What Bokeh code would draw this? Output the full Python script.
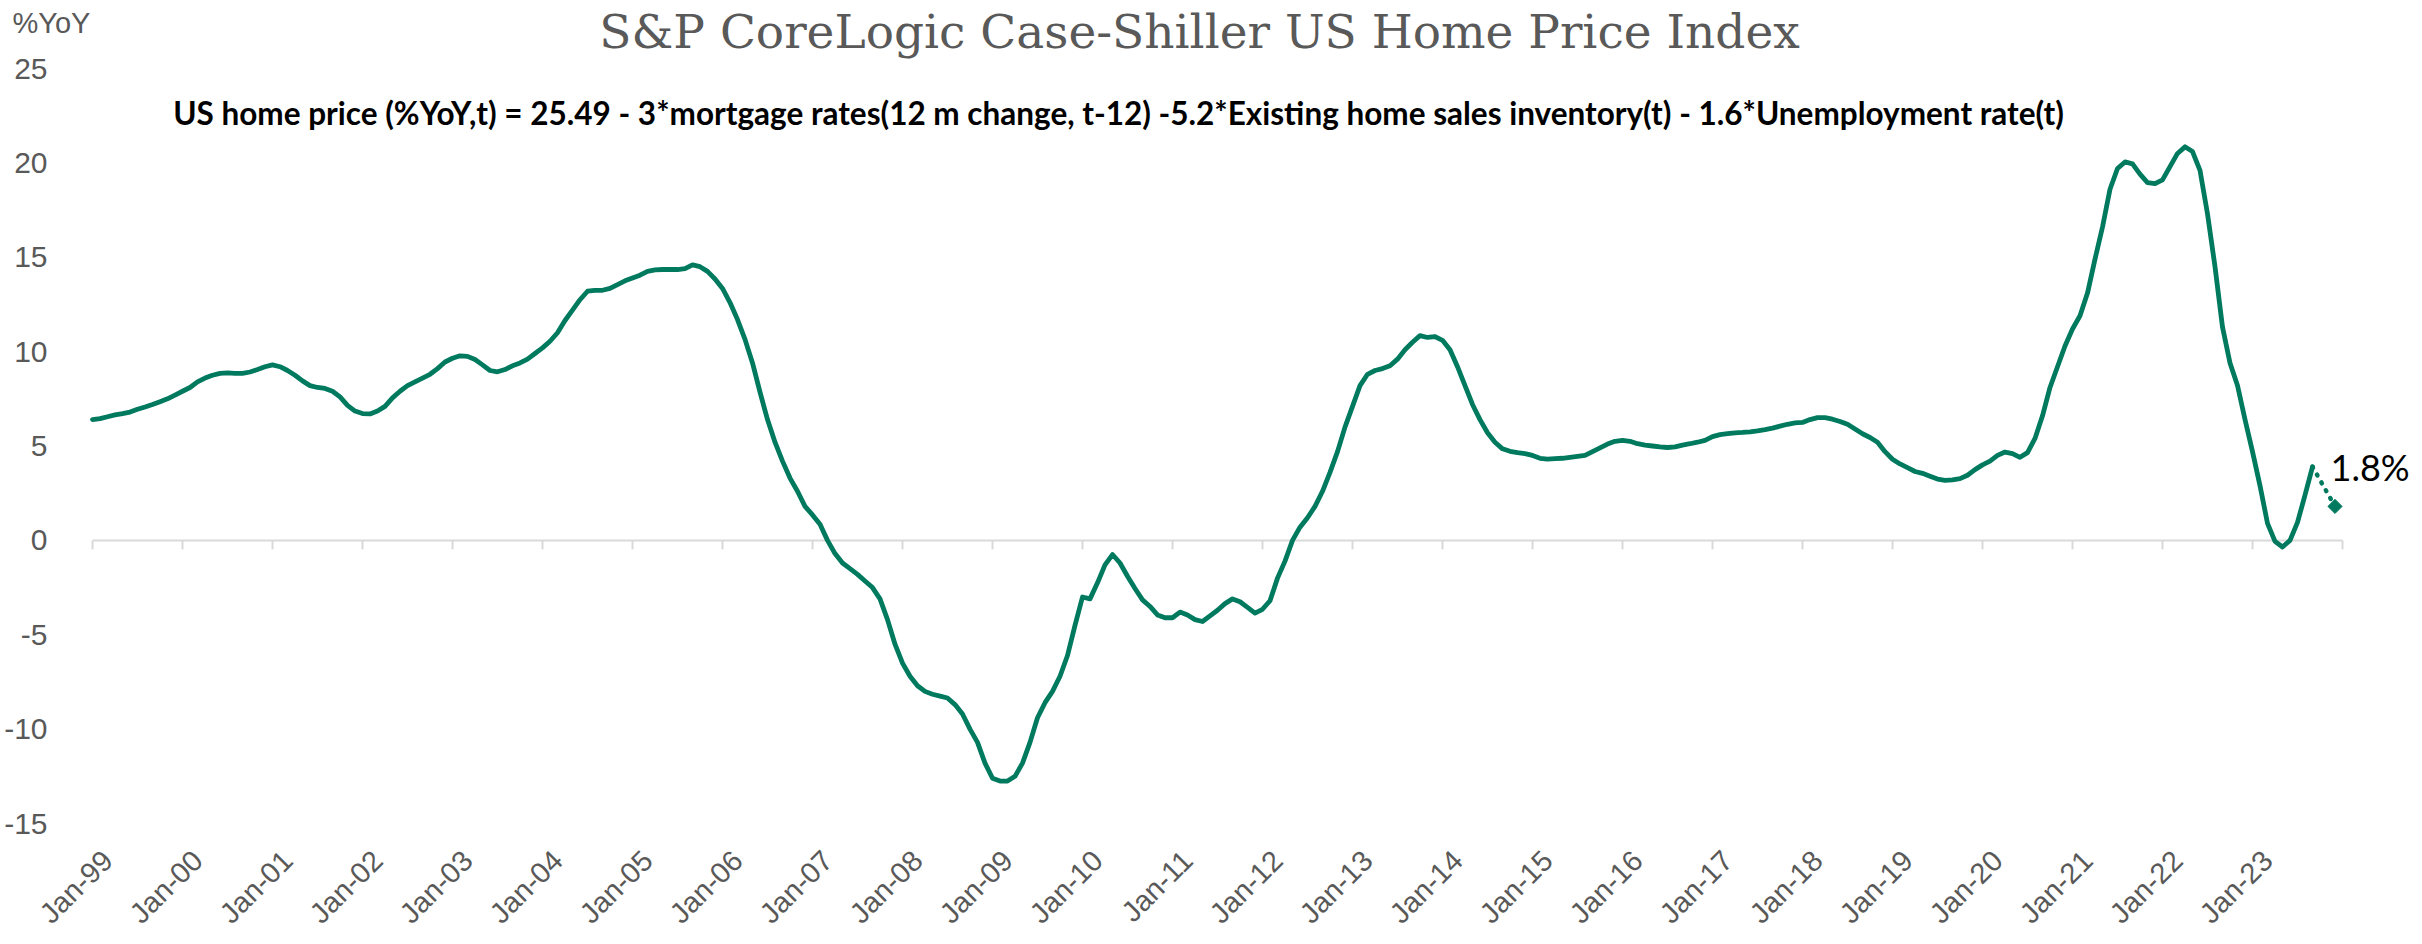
import math
from bokeh.plotting import figure
from bokeh.models import Range1d, FixedTicker, Label, ColumnDataSource
from bokeh.core.properties import value
from bokeh.embed import file_html
from bokeh.resources import INLINE

# ---------------- texts ----------------
title_text = "S&P CoreLogic Case-Shiller US Home Price Index"
equation_text = ("US home price (%YoY,t) = 25.49 - 3*mortgage rates(12 m change, t-12) "
                 "-5.2*Existing home sales inventory(t) - 1.6*Unemployment rate(t)")
y_unit_text = "%YoY"

# ---------------- data: monthly %YoY, Jan-1999 .. Sep-2023 ----------------
yoy_1999 = [6.4, 6.45, 6.55, 6.65, 6.72, 6.8, 6.95, 7.07, 7.2, 7.35, 7.5, 7.7]
yoy_2000 = [7.9, 8.1, 8.4, 8.6, 8.75, 8.85, 8.87, 8.85, 8.85, 8.92, 9.05, 9.2]
yoy_2001 = [9.3, 9.2, 9.0, 8.75, 8.45, 8.2, 8.1, 8.05, 7.9, 7.6, 7.15, 6.85]
yoy_2002 = [6.72, 6.7, 6.85, 7.1, 7.55, 7.9, 8.2, 8.4, 8.6, 8.8, 9.1, 9.45]
yoy_2003 = [9.65, 9.78, 9.75, 9.58, 9.3, 9.0, 8.93, 9.05, 9.25, 9.4, 9.6, 9.9]
yoy_2004 = [10.2, 10.55, 11.0, 11.65, 12.2, 12.75, 13.2, 13.25, 13.25, 13.35, 13.55, 13.75]
yoy_2005 = [13.9, 14.05, 14.25, 14.33, 14.35, 14.35, 14.35, 14.4, 14.6, 14.5, 14.25, 13.85]
yoy_2006 = [13.35, 12.6, 11.7, 10.65, 9.4, 7.85, 6.4, 5.2, 4.2, 3.3, 2.6, 1.8]
yoy_2007 = [1.35, 0.85, 0.0, -0.7, -1.2, -1.5, -1.8, -2.15, -2.5, -3.1, -4.2, -5.5]
yoy_2008 = [-6.5, -7.2, -7.7, -8.0, -8.15, -8.25, -8.35, -8.7, -9.2, -10.0, -10.7, -11.8]
yoy_2009 = [-12.6, -12.75, -12.75, -12.5, -11.8, -10.7, -9.4, -8.6, -8.0, -7.2, -6.1, -4.5]
yoy_2010 = [-3.0, -3.1, -2.25, -1.3, -0.75, -1.2, -1.9, -2.55, -3.15, -3.5, -3.95, -4.1]
yoy_2011 = [-4.1, -3.8, -3.95, -4.2, -4.3, -4.0, -3.7, -3.35, -3.1, -3.25, -3.55, -3.85]
yoy_2012 = [-3.65, -3.2, -2.0, -1.1, 0.0, 0.7, 1.2, 1.8, 2.6, 3.6, 4.7, 6.0]
yoy_2013 = [7.1, 8.2, 8.8, 9.0, 9.1, 9.25, 9.6, 10.1, 10.5, 10.85, 10.75, 10.8]
yoy_2014 = [10.6, 10.1, 9.2, 8.2, 7.2, 6.4, 5.7, 5.2, 4.85, 4.72, 4.65, 4.6]
yoy_2015 = [4.5, 4.35, 4.3, 4.33, 4.35, 4.4, 4.45, 4.5, 4.7, 4.9, 5.1, 5.25]
yoy_2016 = [5.3, 5.25, 5.12, 5.05, 5.0, 4.95, 4.92, 4.95, 5.05, 5.12, 5.2, 5.3]
yoy_2017 = [5.5, 5.6, 5.65, 5.7, 5.72, 5.75, 5.8, 5.87, 5.95, 6.05, 6.15, 6.22]
yoy_2018 = [6.25, 6.4, 6.5, 6.5, 6.42, 6.3, 6.15, 5.9, 5.65, 5.45, 5.2, 4.7]
yoy_2019 = [4.3, 4.05, 3.85, 3.65, 3.55, 3.4, 3.25, 3.18, 3.2, 3.27, 3.45, 3.75]
yoy_2020 = [4.0, 4.2, 4.5, 4.68, 4.6, 4.4, 4.65, 5.4, 6.6, 8.1, 9.2, 10.3]
yoy_2021 = [11.2, 11.9, 13.1, 14.9, 16.6, 18.6, 19.7, 20.05, 19.95, 19.4, 18.95, 18.9]
yoy_2022 = [19.1, 19.8, 20.5, 20.85, 20.6, 19.6, 17.3, 14.5, 11.3, 9.4, 8.2, 6.4]
yoy_2023 = [4.7, 2.9, 0.9, -0.05, -0.35, 0.0, 0.95, 2.4, 3.9]

# model projection Sep-2023 .. Dec-2023
forecast_yoy = [3.9, 3.2, 2.5, 1.8]

# axis ticks / labels
start_year = 1999
end_year = 2023
y_ticks = [-15, -10, -5, 0, 5, 10, 15, 20, 25]

# ---------------- build series ----------------
hpi_yoy = (yoy_1999 + yoy_2000 + yoy_2001 + yoy_2002 + yoy_2003 + yoy_2004 + yoy_2005
           + yoy_2006 + yoy_2007 + yoy_2008 + yoy_2009 + yoy_2010 + yoy_2011 + yoy_2012
           + yoy_2013 + yoy_2014 + yoy_2015 + yoy_2016 + yoy_2017 + yoy_2018 + yoy_2019
           + yoy_2020 + yoy_2021 + yoy_2022 + yoy_2023)
months = list(range(len(hpi_yoy)))
last = months[-1]
forecast_months = list(range(last, last + len(forecast_yoy)))

years = list(range(start_year, end_year + 1))
tick_positions = [12 * i for i in range(len(years))]
x_end = 12 * len(years)           # category axis runs to Jan of the following year
all_ticks = tick_positions + [x_end]

# ---------------- geometry (pixels on the page) ----------------
W, H = 2422, 944
PLOT_LEFT, PLOT_RIGHT = 92, 2342      # where Jan-99 and Jan-24 sit
PLOT_TOP, PLOT_BOTTOM = 68, 823       # where 25 and -15 sit
FRAME_BOTTOM = 838
MB = H - FRAME_BOTTOM
y_lo, y_hi = y_ticks[0], y_ticks[-1]
px_x = (PLOT_RIGHT - PLOT_LEFT) / x_end
px_y = (PLOT_BOTTOM - PLOT_TOP) / (y_hi - y_lo)
LABEL_SHIFT = 15 / px_x               # rotated labels end a little right of their tick


def dx(px):
    return (px - PLOT_LEFT) / px_x


def dy(py):
    return y_hi - (py - PLOT_TOP) / px_y


label_positions = [t + LABEL_SHIFT for t in tick_positions]
tick_labels = {pos: "Jan-%02d" % (y % 100) for pos, y in zip(label_positions, years)}

GREEN = "#007A5E"
GREY_TXT = "#595959"
AXIS_GREY = "#D9D9D9"

p = figure(width=W, height=H, output_backend="svg", toolbar_location=None,
           x_range=Range1d(dx(0), dx(W)), y_range=Range1d(dy(FRAME_BOTTOM), dy(0)),
           min_border_left=0, min_border_right=0, min_border_top=0, min_border_bottom=MB)
p.outline_line_color = None
p.background_fill_color = "white"
p.border_fill_color = "white"
p.xgrid.visible = False
p.ygrid.visible = False
p.yaxis.visible = False

# x axis (labels only, at bottom)
p.xaxis.ticker = FixedTicker(ticks=label_positions)
p.xaxis.major_label_overrides = tick_labels
p.xaxis.major_label_orientation = math.pi / 4
p.xaxis.axis_line_color = None
p.xaxis.major_tick_line_color = None
p.xaxis.minor_tick_line_color = None
p.xaxis.major_tick_out = 0
p.xaxis.major_tick_in = 0
p.xaxis.major_label_standoff = 17
p.xaxis.major_label_text_font = "Liberation Sans"
p.xaxis.major_label_text_font_size = "29px"
p.xaxis.major_label_text_color = GREY_TXT

# y tick labels (left of the plot area)
ysrc = ColumnDataSource(dict(x=[dx(47)] * len(y_ticks), y=y_ticks,
                             t=[str(v) for v in y_ticks]))
p.text(x="x", y="y", text="t", source=ysrc, text_align="right", text_baseline="middle",
       text_font=value("Liberation Sans"), text_font_size="30px", text_color=GREY_TXT)

# zero axis line with tick marks
tick_len = 9 / px_y
p.segment(x0=[0], x1=[x_end], y0=[0], y1=[0], line_color=AXIS_GREY, line_width=2)
p.segment(x0=all_ticks, x1=all_ticks, y0=[0] * len(all_ticks), y1=[-tick_len] * len(all_ticks),
          line_color=AXIS_GREY, line_width=2)

# data line
p.line(months, hpi_yoy, line_color=GREEN, line_width=4.8, line_join="round", line_cap="round")
# projection (dotted) and end marker
p.line(forecast_months, forecast_yoy, line_color=GREEN, line_width=4.5,
       line_dash="1 8", line_cap="round")
p.scatter([forecast_months[-1]], [forecast_yoy[-1]], marker="square", angle=math.pi / 4,
          size=10, fill_color=GREEN, line_color=GREEN)

# ---------------- texts ----------------
p.add_layout(Label(x=dx(1199), y=dy(31), text=title_text, text_align="center",
                   text_baseline="middle", text_font="DejaVu Serif",
                   text_font_size="47px", text_color=GREY_TXT))
p.add_layout(Label(x=dx(12), y=dy(22), text=y_unit_text, text_align="left",
                   text_baseline="middle", text_font="Liberation Sans",
                   text_font_size="29px", text_color=GREY_TXT))
p.add_layout(Label(x=dx(1118), y=dy(112), text=equation_text, text_align="center",
                   text_baseline="middle", text_font="Lato", text_font_style="bold",
                   text_font_size="31.5px", text_color="black"))
p.add_layout(Label(x=dx(2330), y=dy(466), text="%.1f%%" % forecast_yoy[-1],
                   text_align="left", text_baseline="middle",
                   text_font="Lato", text_font_size="36px", text_color="black"))

open("out.html", "w").write(file_html(p, INLINE))
